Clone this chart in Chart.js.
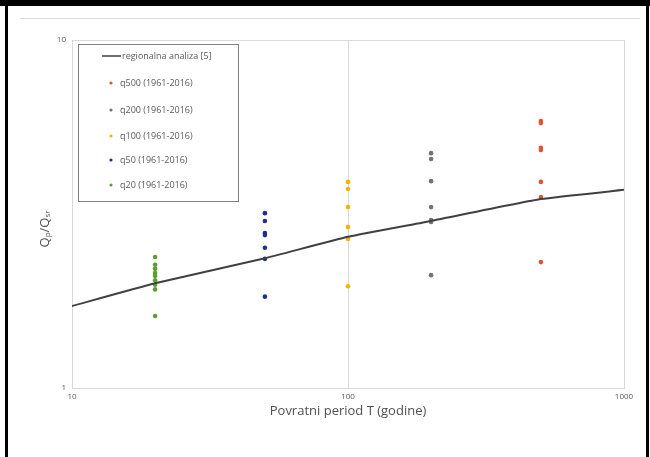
<!DOCTYPE html>
<html>
<head>
<meta charset="utf-8">
<script src="https://cdn.jsdelivr.net/npm/chart.js@4.4.0/dist/chart.umd.min.js"></script>
<style>
  body { margin: 0; background: #fff; }
  canvas { display: block; }
</style>
</head>
<body>
<canvas id="c" width="650" height="457"></canvas>
<script>
// DATA

const returnPeriods = [10, 20, 50, 100, 200, 500, 1000];
const regionalRatio = [1.72, 2.0, 2.36, 2.72, 3.02, 3.49, 3.71];

const q500 = [5.85, 5.77, 4.90, 4.83, 3.91, 3.54, 2.30];
const q200 = [4.73, 4.55, 3.93, 3.31, 3.04, 3.00, 2.11];
const q100 = [3.91, 3.73, 3.31, 2.90, 2.68, 1.96];
const q50 = [3.18, 3.02, 2.79, 2.75, 2.53, 2.35, 1.83];
const q20 = [2.38, 2.26, 2.20, 2.14, 2.10, 2.04, 1.98, 1.92, 1.61];

const seriesNames = ['q500 (1961-2016)', 'q200 (1961-2016)', 'q100 (1961-2016)', 'q50 (1961-2016)', 'q20 (1961-2016)'];
const seriesT = [500, 200, 100, 50, 20];
const seriesValues = [q500, q200, q100, q50, q20];
const seriesColors = ['#e0552b', '#6f7478', '#f2b400', '#1d2f8f', '#5b9e31'];

const xTicks = [10, 100, 1000];
const yTicks = [1, 10];

const lineLabel = 'regionalna analiza [5]';

// CHART

const scatterSets = seriesNames.map((name, i) => ({
    type: 'scatter',
    label: name,
    data: seriesValues[i].map(v => ({ x: seriesT[i], y: v })),
    backgroundColor: seriesColors[i],
    borderColor: seriesColors[i],
    pointRadius: 2.3,
    pointBorderWidth: 0
}));

const lineSet = {
    type: 'line',
    label: lineLabel,
    data: returnPeriods.map((t, i) => ({ x: t, y: regionalRatio[i] })),
    borderColor: '#404040',
    borderWidth: 2,
    pointRadius: 0,
    tension: 0.15,
    fill: false
};

const frame = {
    id: 'frame',
    beforeDraw(chart) {
        const c = chart.ctx;
        c.save();
        c.fillStyle = '#fff';
        c.fillRect(0, 0, chart.width, chart.height);
        c.fillStyle = '#000';
        c.fillRect(0, 0, 650, 6);
        c.fillRect(5, 0, 3, 457);
        c.fillRect(646, 0, 3, 457);
        c.strokeStyle = '#d9d9d9';
        c.lineWidth = 1;
        c.beginPath();
        c.moveTo(20, 18.5);
        c.lineTo(640, 18.5);
        c.stroke();
        c.restore();
    },
    afterDraw(chart) {
        const c = chart.ctx;
        const a = chart.chartArea;
        c.save();

        // axis titles
        c.fillStyle = '#505050';
        c.font = '13px "Open Sans"';
        c.textAlign = 'center';
        c.textBaseline = 'middle';
        c.fillText('Povratni period T (godine)', (a.left + a.right) / 2, 411);

        c.translate(45, 229);
        c.rotate(-Math.PI / 2);
        const parts = [['Q', 13, 0], ['p', 8, 3], ['/Q', 13, 0], ['sr', 8, 3]];
        let w = 0;
        parts.forEach(p => { c.font = p[1] + 'px "Open Sans"'; w += c.measureText(p[0]).width; });
        let x = -w / 2;
        c.textAlign = 'left';
        parts.forEach(p => {
            c.font = p[1] + 'px "Open Sans"';
            c.fillText(p[0], x, p[2]);
            x += c.measureText(p[0]).width;
        });
        c.setTransform(1, 0, 0, 1, 0, 0);

        // legend box
        c.fillStyle = '#fff';
        c.fillRect(78, 44, 160, 157);
        c.strokeStyle = '#7f7f7f';
        c.lineWidth = 1;
        c.strokeRect(78.5, 44.5, 160, 157);

        c.font = '9px "Open Sans"';
        c.textAlign = 'left';
        c.textBaseline = 'middle';
        c.strokeStyle = '#404040';
        c.lineWidth = 1.5;
        c.beginPath();
        c.moveTo(102, 56);
        c.lineTo(121, 56);
        c.stroke();
        c.fillStyle = '#595959';
        c.fillText(lineLabel, 122, 56);

        const rows = [83, 110, 136, 160, 185];
        seriesNames.forEach((name, i) => {
            c.fillStyle = seriesColors[i];
            c.beginPath();
            c.arc(111, rows[i], 1.6, 0, Math.PI * 2);
            c.fill();
            c.fillStyle = '#595959';
            c.fillText(name, 120, rows[i]);
        });
        c.restore();
    }
};

new Chart(document.getElementById('c'), {
    data: { datasets: [lineSet, ...scatterSets] },
    options: {
        responsive: false,
        animation: false,
        layout: { padding: { top: 40, right: 26, left: 0, bottom: 0 } },
        plugins: {
            legend: { display: false },
            tooltip: { enabled: false }
        },
        scales: {
            x: {
                type: 'logarithmic',
                min: 10,
                max: 1000,
                afterBuildTicks: s => { s.ticks = xTicks.map(v => ({ value: v })); },
                afterFit: s => { s.height = 69; },
                ticks: {
                    autoSkip: false,
                    maxRotation: 0,
                    padding: 4,
                    color: '#595959',
                    font: { size: 8, family: 'Open Sans' },
                    callback: v => String(v)
                },
                grid: { color: '#d9d9d9', drawTicks: false },
                border: { color: '#d9d9d9' }
            },
            y: {
                type: 'logarithmic',
                min: 1,
                max: 10,
                afterBuildTicks: s => { s.ticks = yTicks.map(v => ({ value: v })); },
                afterFit: s => { s.width = 72; },
                ticks: {
                    autoSkip: false,
                    padding: 6,
                    color: '#595959',
                    font: { size: 8, family: 'Open Sans' },
                    callback: v => String(v)
                },
                grid: { color: '#d9d9d9', drawTicks: false },
                border: { color: '#d9d9d9' }
            }
        }
    },
    plugins: [frame]
});
</script>
</body>
</html>
